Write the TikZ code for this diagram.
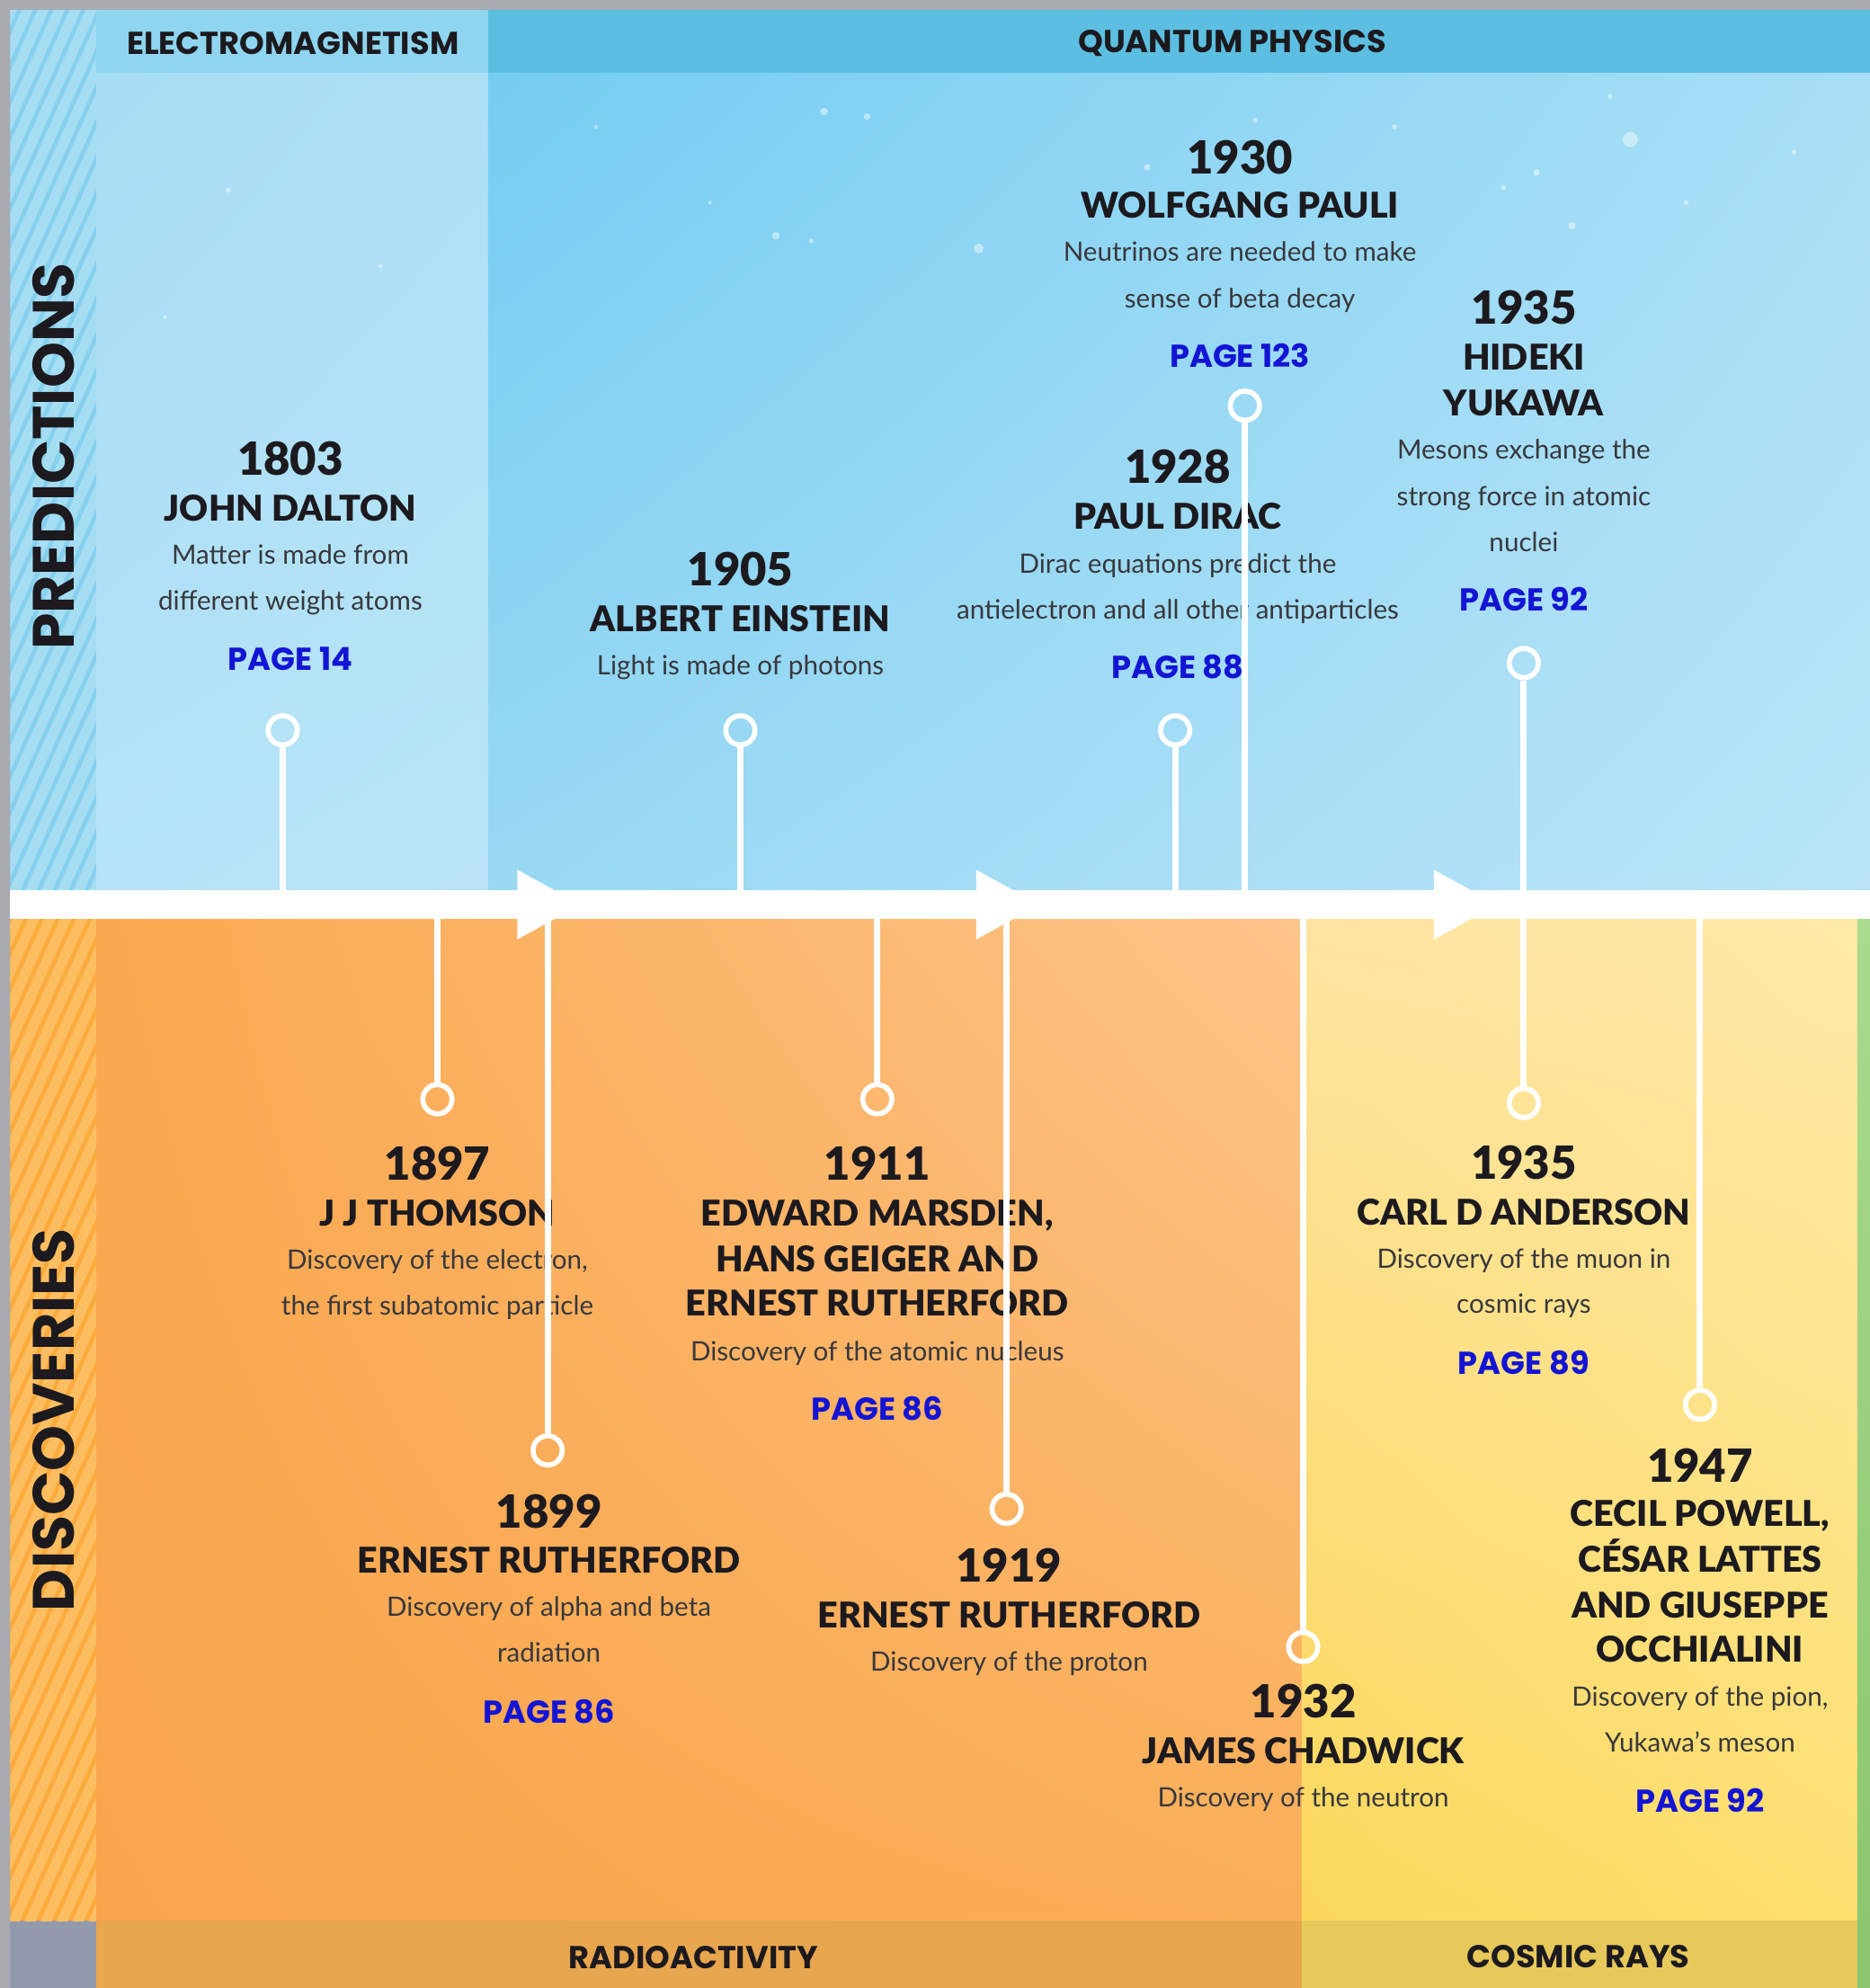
\documentclass[tikz,border=0pt]{standalone}
\usepackage{fontspec}
\usetikzlibrary{shadings}
\setmainfont{Lato}
\newfontfamily\latoblack{Lato Black}
\newfontfamily\popf{Poppins}
\definecolor{graybg}{HTML}{A9AAB0}
\definecolor{cornerbg}{HTML}{9299AA}
\definecolor{stripeB}{HTML}{86D0EE}
\definecolor{stripeBl}{HTML}{A5DDF3}
\definecolor{stripeO}{HTML}{FBAA3C}
\definecolor{stripeOl}{HTML}{FDBE62}
\definecolor{hdrEM}{HTML}{8FD5F0}
\definecolor{hdrQP}{HTML}{5CBFE1}
\definecolor{ra}{HTML}{E8A64E}
\definecolor{cr}{HTML}{E7C85B}
\definecolor{greenT}{HTML}{AADA8E}
\definecolor{greenB}{HTML}{8AC66C}
\definecolor{ink}{HTML}{1C1A1E}
\definecolor{descc}{HTML}{38383C}
\definecolor{pageblue}{HTML}{1414D4}
\definecolor{emUL}{HTML}{A6DCF4}
\definecolor{emUR}{HTML}{AEE0F5}
\definecolor{emLL}{HTML}{B6E3F7}
\definecolor{emLR}{HTML}{B9E5F7}
\definecolor{qpUL}{HTML}{74CDF2}
\definecolor{qpUR}{HTML}{A8DEF5}
\definecolor{qpLL}{HTML}{98D8F3}
\definecolor{qpLR}{HTML}{B9E5F7}
\definecolor{orUL}{HTML}{FAA94F}
\definecolor{orUR}{HTML}{FDC48A}
\definecolor{orLL}{HTML}{F9A54B}
\definecolor{orLR}{HTML}{FAAE57}
\definecolor{yeUL}{HTML}{FEE4A2}
\definecolor{yeUR}{HTML}{FEE9A8}
\definecolor{yeLL}{HTML}{FBD85A}
\definecolor{yeLR}{HTML}{FDDF70}
\begin{document}
\begin{tikzpicture}[x=1pt,y=-1pt,
  yr/.style={anchor=base, text=ink, inner sep=0pt, font=\latoblack\fontsize{36}{36}\selectfont},
  nm/.style={anchor=base, text=ink, inner sep=0pt, font=\latoblack\fontsize{28}{28}\selectfont},
  ds/.style={anchor=base, text=descc, inner sep=0pt, font=\fontsize{21}{21}\selectfont},
  pg/.style={anchor=base, text=pageblue, inner sep=0pt, font=\popf\bfseries\fontsize{25}{25}\selectfont},
  hd/.style={text=ink, inner sep=0pt, font=\popf\bfseries\fontsize{25}{25}\selectfont},
  side/.style={text=ink, inner sep=0pt, rotate=90, font=\popf\bfseries\fontsize{46}{46}\selectfont},
  ring/.style={circle, draw=white, line width=4pt, minimum size=23pt, inner sep=0pt},
  conn/.style={draw=white, line width=5pt},
  stripe/.style={line width=8pt},
  dot/.style={fill=white, fill opacity=0.45}]
\useasboundingbox (0,0) rectangle (1475,1568);
% ---------- backgrounds ----------
\fill[graybg] (0,0) rectangle (1475,1568);
\fill[cornerbg] (8,1515) rectangle (76,1568);
\begin{scope}
  \clip (8,8) rectangle (76,702);
  \fill[stripeB] (8,8) rectangle (76,702);
  \foreach \k in {0,28,...,900}
    \draw[stripe, stripeBl] (0,\k) -- (90,{\k-200});
\end{scope}
\begin{scope}
  \clip (8,725) rectangle (76,1515);
  \fill[stripeO] (8,725) rectangle (76,1515);
  \foreach \k in {700,728,...,1760}
    \draw[stripe, stripeOl] (0,\k) -- (90,{\k-200});
\end{scope}
\fill[hdrEM] (76,8) rectangle (385,58);
\fill[hdrQP] (385,8) rectangle (1475,58);
\shade[upper left=emUL, upper right=emUR, lower left=emLL, lower right=emLR] (76,58) rectangle (385,702);
\shade[upper left=qpUL, upper right=qpUR, lower left=qpLL, lower right=qpLR] (385,58) rectangle (1475,702);
\shade[upper left=orUL, upper right=orUR, lower left=orLL, lower right=orLR] (76,725) rectangle (1027,1515);
\shade[upper left=yeUL, upper right=yeUR, lower left=yeLL, lower right=yeLR] (1027,725) rectangle (1465,1515);
\fill[ra] (76,1515) rectangle (1027,1568);
\fill[cr] (1027,1515) rectangle (1465,1568);
\shade[top color=greenT, bottom color=greenB] (1465,725) rectangle (1475,1568);
% faint sparkles
\foreach \sx/\sy/\sr in {650/88/3, 684/92/2.5, 612/186/3, 640/190/2, 772/196/4, 905/132/2.5, 560/160/1.5,
                   1270/76/2, 1212/136/2.5, 1240/178/3, 1286/110/6, 1186/148/2, 1330/160/2, 1100/100/2,
                   180/150/2, 130/250/1.5, 300/210/1.5, 990/95/2, 1415/120/2, 470/100/1.5}
  \fill[dot] (\sx,\sy) circle[radius=\sr];
% ---------- headers ----------
\node[hd] (h-em) at (231,34) {ELECTROMAGNETISM};
\node[hd] (h-qp) at (972,34) {QUANTUM PHYSICS};
\node[hd] (h-ra) at (547,1544) {RADIOACTIVITY};
\node[hd] (h-cr) at (1245,1543) {COSMIC RAYS};
\node[side] (h-pred) at (42,360) {PREDICTIONS};
\node[side] (h-disc) at (42,1120) {DISCOVERIES};
% ---------- predictions ----------
\node[yr] (dalton-y) at (229,375) {1803};
\node[nm] (dalton-n) at (229,411) {JOHN DALTON};
\node[ds] (dalton-d1) at (229,445) {Matter is made from};
\node[ds] (dalton-d2) at (229,481) {different weight atoms};
\node[pg] (dalton-p) at (229,529) {PAGE 14};

\node[yr] (einstein-y) at (584,462) {1905};
\node[nm] (einstein-n) at (584,498) {ALBERT EINSTEIN};
\node[ds] (einstein-d1) at (584,532) {Light is made of photons};

\node[yr] (dirac-y) at (929,381) {1928};
\node[nm] (dirac-n) at (929,417) {PAUL DIRAC};
\node[ds] (dirac-d1) at (929,452) {Dirac equations predict the};
\node[ds] (dirac-d2) at (929,488) {antielectron and all other antiparticles};
\node[pg] (dirac-p) at (929,535) {PAGE 88};

\node[yr] (pauli-y) at (978,137) {1930};
\node[nm] (pauli-n) at (978,172) {WOLFGANG PAULI};
\node[ds] (pauli-d1) at (978,206) {Neutrinos are needed to make};
\node[ds] (pauli-d2) at (978,243) {sense of beta decay};
\node[pg] (pauli-p) at (978,290) {PAGE 123};

\node[yr] (yukawa-y) at (1202,256) {1935};
\node[nm] (yukawa-n1) at (1202,292) {HIDEKI};
\node[nm] (yukawa-n2) at (1202,328) {YUKAWA};
\node[ds] (yukawa-d1) at (1202,362) {Mesons exchange the};
\node[ds] (yukawa-d2) at (1202,399) {strong force in atomic};
\node[ds] (yukawa-d3) at (1202,435) {nuclei};
\node[pg] (yukawa-p) at (1202,482) {PAGE 92};
% ---------- discoveries ----------
\node[yr] (thomson-y) at (345,931) {1897};
\node[nm] (thomson-n) at (345,967) {J J THOMSON};
\node[ds] (thomson-d1) at (345,1001) {Discovery of the electron,};
\node[ds] (thomson-d2) at (345,1037) {the first subatomic particle};

\node[yr] (ruth99-y) at (433,1205) {1899};
\node[nm] (ruth99-n) at (433,1241) {ERNEST RUTHERFORD};
\node[ds] (ruth99-d1) at (433,1275) {Discovery of alpha and beta};
\node[ds] (ruth99-d2) at (433,1311) {radiation};
\node[pg] (ruth99-p) at (433,1359) {PAGE 86};

\node[yr] (marsden-y) at (692,931) {1911};
\node[nm] (marsden-n1) at (692,967) {EDWARD MARSDEN,};
\node[nm] (marsden-n2) at (692,1003) {HANS GEIGER AND};
\node[nm] (marsden-n3) at (692,1038) {ERNEST RUTHERFORD};
\node[ds] (marsden-d1) at (692,1073) {Discovery of the atomic nucleus};
\node[pg] (marsden-p) at (692,1120) {PAGE 86};

\node[yr] (ruth19-y) at (796,1248) {1919};
\node[nm] (ruth19-n) at (796,1284) {ERNEST RUTHERFORD};
\node[ds] (ruth19-d1) at (796,1318) {Discovery of the proton};

\node[yr] (chadwick-y) at (1028,1355) {1932};
\node[nm] (chadwick-n) at (1028,1391) {JAMES CHADWICK};
\node[ds] (chadwick-d1) at (1028,1425) {Discovery of the neutron};

\node[yr] (anderson-y) at (1202,930) {1935};
\node[nm] (anderson-n) at (1202,966) {CARL D ANDERSON};
\node[ds] (anderson-d1) at (1202,1000) {Discovery of the muon in};
\node[ds] (anderson-d2) at (1202,1036) {cosmic rays};
\node[pg] (anderson-p) at (1202,1084) {PAGE 89};

\node[yr] (powell-y) at (1341,1169) {1947};
\node[nm] (powell-n1) at (1341,1204) {CECIL POWELL,};
\node[nm] (powell-n2) at (1341,1240) {CÉSAR LATTES};
\node[nm] (powell-n3) at (1341,1276) {AND GIUSEPPE};
\node[nm] (powell-n4) at (1341,1311) {OCCHIALINI};
\node[ds] (powell-d1) at (1341,1346) {Discovery of the pion,};
\node[ds] (powell-d2) at (1341,1382) {Yukawa’s meson};
\node[pg] (powell-p) at (1341,1429) {PAGE 92};
% ---------- rings ----------
\node[ring] (dalton-c) at (223,576) {};
\node[ring] (einstein-c) at (584,576) {};
\node[ring] (dirac-c) at (927,576) {};
\node[ring] (pauli-c) at (982,320) {};
\node[ring] (yukawa-c) at (1202,523) {};
\node[ring] (thomson-c) at (345,867) {};
\node[ring] (ruth99-c) at (432,1144) {};
\node[ring] (marsden-c) at (692,867) {};
\node[ring] (ruth19-c) at (794,1190) {};
\node[ring] (chadwick-c) at (1028,1299) {};
\node[ring] (anderson-c) at (1202,870) {};
\node[ring] (powell-c) at (1341,1108) {};
% ---------- timeline ----------
\coordinate (t-dalton) at (223,713);
\coordinate (t-einstein) at (584,713);
\coordinate (t-dirac) at (927,713);
\coordinate (t-pauli) at (982,713);
\coordinate (t-thomson) at (345,713);
\coordinate (t-ruth99) at (432,713);
\coordinate (t-marsden) at (692,713);
\coordinate (t-ruth19) at (794,713);
\coordinate (t-chadwick) at (1028,713);
\coordinate (t-powell) at (1341,713);
\draw[conn] (dalton-c) -- (t-dalton);
\draw[conn] (einstein-c) -- (t-einstein);
\draw[conn] (dirac-c) -- (t-dirac);
\draw[conn] (pauli-c) -- (t-pauli);
\draw[conn] (yukawa-c) -- (anderson-c);
\draw[conn] (t-thomson) -- (thomson-c);
\draw[conn] (t-ruth99) -- (ruth99-c);
\draw[conn] (t-marsden) -- (marsden-c);
\draw[conn] (t-ruth19) -- (ruth19-c);
\draw[conn] (t-chadwick) -- (chadwick-c);
\draw[conn] (t-powell) -- (powell-c);
\fill[white] (8,702) rectangle (1475,725);
\fill[white] (408,686) -- (458,713.5) -- (408,741) -- cycle;
\fill[white] (770,686) -- (820,713.5) -- (770,741) -- cycle;
\fill[white] (1131,686) -- (1181,713.5) -- (1131,741) -- cycle;
\end{tikzpicture}
\end{document}
